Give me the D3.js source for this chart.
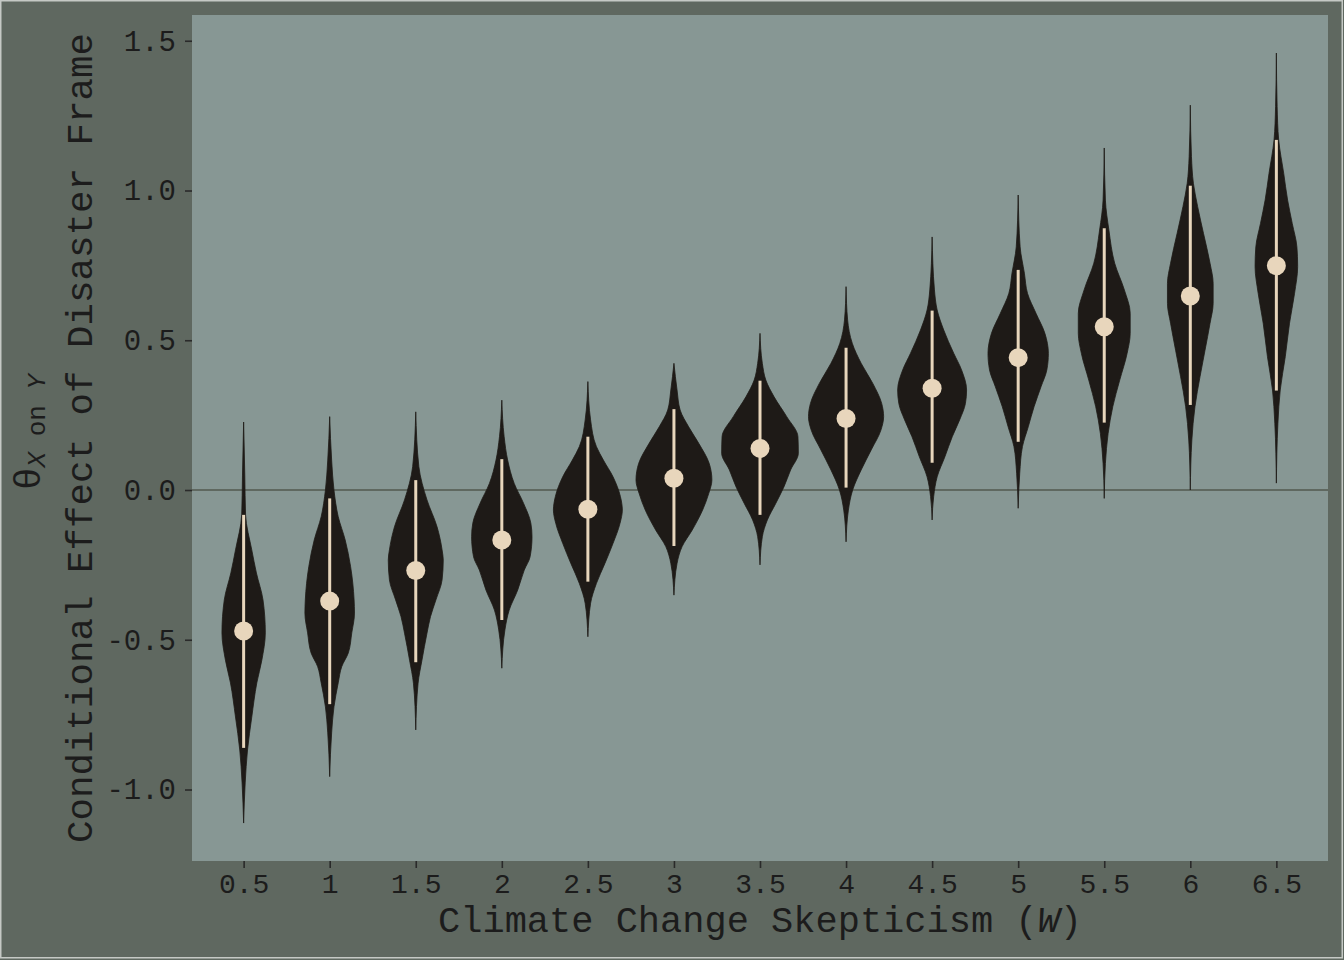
<!DOCTYPE html>
<html>
<head>
<meta charset="utf-8">
<script src="https://cdn.jsdelivr.net/npm/d3@7"></script>
<style>
  html, body { margin: 0; padding: 0; background: #5f6860; }
  svg { display: block; }
</style>
</head>
<body>
<script>
// ---------------- data ----------------
const categories = ["0.5","1","1.5","2","2.5","3","3.5","4","4.5","5","5.5","6","6.5"];
const medians = [-0.471,-0.371,-0.269,-0.167,-0.064,0.039,0.139,0.239,0.340,0.442,0.545,0.648,0.749];
const lowers  = [-0.861,-0.715,-0.575,-0.434,-0.306,-0.187,-0.083,0.008,0.091,0.161,0.225,0.284,0.332];
const uppers  = [-0.083,-0.028,0.033,0.103,0.178,0.270,0.365,0.475,0.599,0.735,0.874,1.016,1.169];

// violin outlines: theta values and relative density
const violinTheta = [
  [0.227,0.047,-0.083,-0.200,-0.277,-0.367,-0.477,-0.568,-0.644,-0.758,-0.868,-0.978,-1.112],
  [0.245,0.100,0.000,-0.089,-0.167,-0.256,-0.367,-0.411,-0.477,-0.544,-0.590,-0.644,-0.724,-0.811,-0.957],
  [0.261,0.078,-0.033,-0.123,-0.200,-0.234,-0.300,-0.367,-0.423,-0.478,-0.568,-0.645,-0.801],
  [0.300,0.178,0.100,0.022,-0.044,-0.111,-0.156,-0.223,-0.267,-0.334,-0.401,-0.467,-0.595],
  [0.362,0.234,0.145,0.100,0.044,-0.022,-0.067,-0.111,-0.178,-0.245,-0.312,-0.378,-0.490],
  [0.423,0.334,0.267,0.211,0.156,0.089,0.033,-0.011,-0.067,-0.134,-0.189,-0.245,-0.351],
  [0.523,0.423,0.367,0.312,0.245,0.178,0.123,0.067,0.011,-0.044,-0.100,-0.156,-0.250],
  [0.679,0.568,0.490,0.423,0.356,0.289,0.245,0.200,0.134,0.067,0.000,-0.067,-0.173],
  [0.845,0.668,0.601,0.534,0.456,0.401,0.334,0.289,0.234,0.178,0.111,0.044,-0.022,-0.100],
  [0.985,0.812,0.724,0.657,0.590,0.523,0.456,0.401,0.345,0.278,0.211,0.145,0.056,-0.061],
  [1.142,0.968,0.868,0.757,0.668,0.590,0.523,0.456,0.367,0.278,0.189,0.089,-0.028],
  [1.285,1.113,1.024,0.946,0.857,0.757,0.690,0.623,0.557,0.467,0.378,0.278,0.167,0.000],
  [1.459,1.280,1.169,1.057,0.968,0.890,0.812,0.746,0.657,0.557,0.445,0.334,0.223,0.023]
];
const violinDensity = [
  [0,0.03,0.05,0.21,0.33,0.50,0.56,0.47,0.34,0.21,0.10,0.04,0],
  [0,0.05,0.11,0.22,0.40,0.54,0.63,0.64,0.57,0.48,0.31,0.22,0.11,0.05,0],
  [0,0.08,0.29,0.55,0.68,0.71,0.68,0.52,0.38,0.29,0.16,0.06,0],
  [0,0.06,0.15,0.32,0.56,0.75,0.78,0.73,0.58,0.41,0.19,0.08,0],
  [0,0.07,0.22,0.40,0.65,0.84,0.89,0.83,0.65,0.44,0.22,0.07,0],
  [0,0.08,0.16,0.38,0.64,0.91,0.98,0.90,0.74,0.47,0.21,0.08,0],
  [0,0.06,0.15,0.36,0.69,0.98,0.99,0.79,0.62,0.41,0.19,0.06,0],
  [0,0.04,0.16,0.39,0.69,0.92,0.97,0.90,0.65,0.39,0.17,0.06,0],
  [0,0.06,0.13,0.30,0.56,0.76,0.89,0.86,0.71,0.52,0.33,0.13,0.04,0],
  [0,0.05,0.16,0.24,0.46,0.69,0.78,0.74,0.59,0.41,0.26,0.11,0.04,0],
  [0,0.03,0.12,0.27,0.52,0.67,0.67,0.59,0.40,0.22,0.10,0.03,0],
  [0,0.03,0.08,0.19,0.34,0.51,0.59,0.59,0.51,0.38,0.25,0.12,0.04,0],
  [0,0.02,0.06,0.19,0.29,0.41,0.53,0.55,0.47,0.34,0.23,0.10,0.04,0]
];
const yTickValues = [-1.0,-0.5,0.0,0.5,1.0,1.5];
const yTickLabels = ["-1.0","-0.5","0.0","0.5","1.0","1.5"];

// ---------------- layout ----------------
const W = 1344, H = 960;
const panel = {left: 192, right: 1328, top: 15, bottom: 861};
const col = {
  outer: "#5f6860", panel: "#879794", violin: "#1e1a17",
  cream: "#e8d6bc", text: "#1c1c1c", tick: "#2a2a2a", zero: "#5f6860"
};
const FONT = "'Liberation Mono', 'DejaVu Sans Mono', monospace";

const svg = d3.select("body").append("svg").attr("width", W).attr("height", H);

svg.append("rect").attr("x", 0).attr("y", 0).attr("width", W).attr("height", H).attr("fill", col.outer);
svg.append("rect").attr("x", 0.75).attr("y", 0.75).attr("width", 1341.5).attr("height", 957)
  .attr("fill", "none").attr("stroke", "#c5c9c5").attr("stroke-width", 1.5);

svg.append("rect").attr("x", panel.left).attr("y", panel.top)
  .attr("width", panel.right - panel.left).attr("height", panel.bottom - panel.top)
  .attr("fill", col.panel);

const x = d3.scalePoint().domain(categories).range([panel.left, panel.right]).padding(0.6);
const y = d3.scaleLinear().domain([-1.2387, 1.5860]).range([panel.bottom, panel.top]);
const halfWidth = x.step() * 0.45;
const wScale = d3.scaleLinear().domain([0, 1]).range([0, halfWidth]);

// zero line
svg.append("line").attr("x1", panel.left).attr("x2", panel.right)
  .attr("y1", y(0)).attr("y2", y(0)).attr("stroke", col.zero).attr("stroke-width", 2);

// violins
const g = svg.append("g");
categories.forEach((c, i) => {
  const cx = x(c);
  const pts = violinTheta[i].map((t, k) => ({t, d: violinDensity[i][k]}));
  const area = d3.area()
    .curve(d3.curveMonotoneY)
    .y(p => y(p.t))
    .x0(p => cx - wScale(p.d))
    .x1(p => cx + wScale(p.d));
  g.append("path").attr("d", area(pts)).attr("fill", col.violin)
    .attr("stroke", col.violin).attr("stroke-width", 0.8);
  g.append("line").attr("x1", cx).attr("x2", cx)
    .attr("y1", y(lowers[i])).attr("y2", y(uppers[i]))
    .attr("stroke", col.cream).attr("stroke-width", 3);
  g.append("circle").attr("cx", cx).attr("cy", y(medians[i])).attr("r", 9.5)
    .attr("fill", col.cream);
});

// axes
const yAxis = d3.axisLeft(y).tickValues(yTickValues)
  .tickFormat((d, i) => yTickLabels[i]).tickSize(7).tickPadding(9);
const ya = svg.append("g").attr("transform", `translate(${panel.left},0)`).call(yAxis);
ya.select(".domain").remove();
ya.selectAll(".tick line").attr("stroke", col.tick).attr("stroke-width", 1.6);
ya.selectAll(".tick text").attr("fill", col.text).style("font-family", FONT).style("font-size", "29px");

const xAxis = d3.axisBottom(x).tickSize(7).tickPadding(5);
const xa = svg.append("g").attr("transform", `translate(0,${panel.bottom})`).call(xAxis);
xa.select(".domain").remove();
xa.selectAll(".tick line").attr("stroke", col.tick).attr("stroke-width", 1.6);
xa.selectAll(".tick text").attr("fill", col.text).style("font-family", FONT).style("font-size", "28px");

// x title
const xt = svg.append("text").attr("x", (panel.left + panel.right) / 2).attr("y", 932)
  .attr("text-anchor", "middle").attr("fill", col.text)
  .style("font-family", FONT).style("font-size", "37px");
xt.append("tspan").text("Climate Change Skepticism (");
xt.append("tspan").style("font-style", "italic").text("W");
xt.append("tspan").text(")");

// y title
const cy = (panel.top + panel.bottom) / 2;
svg.append("text").attr("transform", `translate(92,${cy}) rotate(-90)`)
  .attr("text-anchor", "middle").attr("fill", col.text)
  .style("font-family", FONT).style("font-size", "37.5px")
  .text("Conditional Effect of Disaster Frame");

const yt2 = svg.append("text").attr("transform", `translate(40,${cy - 6}) rotate(-90)`)
  .attr("text-anchor", "middle").attr("fill", col.text)
  .style("font-family", FONT);
yt2.append("tspan").style("font-size", "37.5px").text("θ");
yt2.append("tspan").attr("dy", 5).style("font-size", "26px").style("font-style", "italic").text("X");
yt2.append("tspan").style("font-size", "26px").text(" on ");
yt2.append("tspan").style("font-size", "26px").style("font-style", "italic").text("Y");
</script>
</body>
</html>
